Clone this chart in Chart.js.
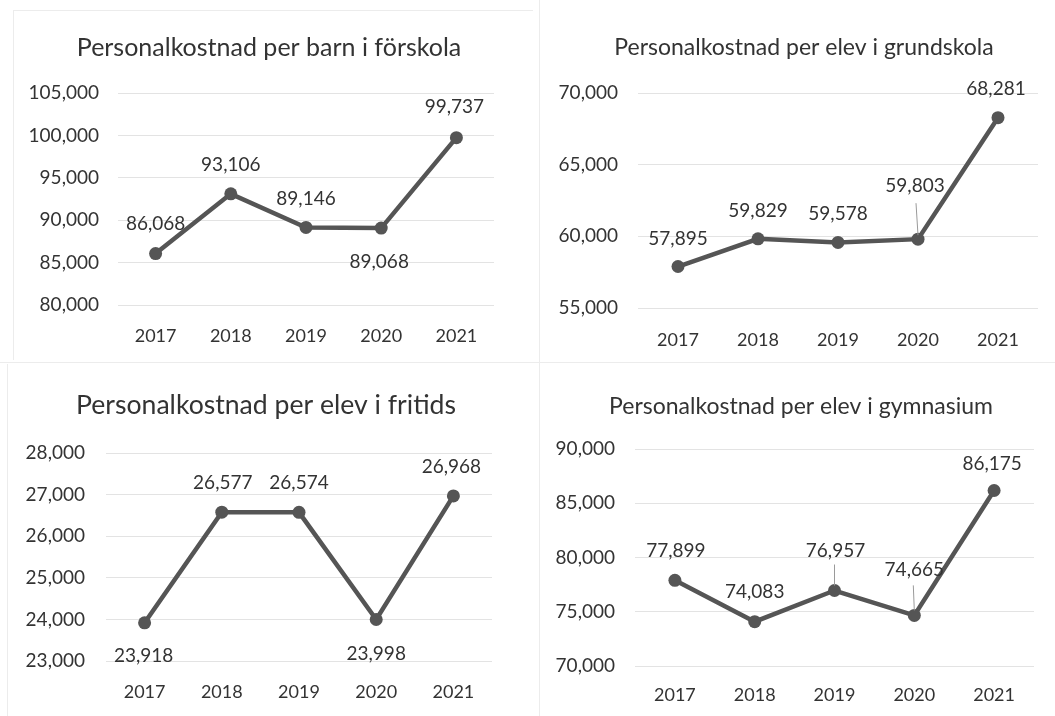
<!DOCTYPE html>
<html>
<head>
<meta charset="utf-8">
<script src="https://cdn.jsdelivr.net/npm/chart.js@4.4.1/dist/chart.umd.min.js"></script>
<style>
  html, body { margin:0; padding:0; background:#fff; }
  #wrap { position:relative; width:1055px; height:716px; overflow:hidden; background:#fff; }
  canvas { position:absolute; }
  .ln { position:absolute; background:#ececec; }
</style>
</head>
<body>
<div id="wrap">
  <div class="ln" style="left:539px;top:0;width:1px;height:716px"></div>
  <div class="ln" style="left:0;top:362px;width:1055px;height:1px"></div>
  <div class="ln" style="left:13px;top:10px;width:520px;height:1px"></div>
  <div class="ln" style="left:13px;top:10px;width:1px;height:350px"></div>
  <div class="ln" style="left:7px;top:364px;width:1px;height:352px"></div>
  <canvas id="c0" width="538" height="362" style="left:0;top:0"></canvas>
  <canvas id="c1" width="517" height="362" style="left:538px;top:0"></canvas>
  <canvas id="c2" width="538" height="354" style="left:0;top:362px"></canvas>
  <canvas id="c3" width="517" height="354" style="left:538px;top:362px"></canvas>
</div>
<script>
// ---- data ----
const years = ['2017', '2018', '2019', '2020', '2021'];
const forskola = [86068, 93106, 89146, 89068, 99737];
const grundskola = [57895, 59829, 59578, 59803, 68281];
const fritids = [23918, 26577, 26574, 23998, 26968];
const gymnasium = [77899, 74083, 76957, 74665, 86175];
const titles = [
  'Personalkostnad per barn i förskola',
  'Personalkostnad per elev i grundskola',
  'Personalkostnad per elev i fritids',
  'Personalkostnad per elev i gymnasium'
];
const yMin = [80000, 55000, 23000, 70000];
const yMax = [105000, 70000, 28000, 90000];
const yStep = [5000, 5000, 1000, 5000];

// ---- styling / layout (not data) ----
const FONT = 'Lato, "Open Sans", sans-serif';
const TEXT = '#333333';
const LINE = '#555555';
const layouts = [
  { padR: 44, padT: 93, yW: 118, yPad: 19, tSize: 25, tX: 269, tY: 48, xH: 57, xPad: 20 },
  { padR: 17, padT: 93, yW: 100, yPad: 20, tSize: 23, tX: 266, tY: 48, xH: 54, xPad: 21 },
  { padR: 46, padT: 91, yW: 106, yPad: 21, tSize: 26.6, tX: 266, tY: 43, xH: 55, xPad: 20 },
  { padR: 21, padT: 87, yW: 97, yPad: 20, tSize: 23, tX: 263, tY: 45, xH: 50, xPad: 18 }
];
const labelOffsets = [
  [[0,-30],[0,-29],[0,-29],[-2,34],[-2,-31]],
  [[0,-28],[0,-28],[0,-29],[-3,-53],[-2,-29]],
  [[-1,33],[1,-29],[0,-29],[0,34],[-2,-29]],
  [[1,-29],[0,-30],[1,-40],[0,-46],[-2,-27]]
];
const leaders = [
  [null,null,null,null,null],
  [null,null,null,[-2,-36,0,-4],null],
  [null,null,null,null,null],
  [null,null,[0,-26,0,-5],[-1,-30,0,-5],null]
];

const labelPlugin = {
  id: 'pointLabels',
  afterDatasetsDraw(chart, args, opts) {
    const ctx = chart.ctx;
    const meta = chart.getDatasetMeta(0);
    const vals = chart.data.datasets[0].data;
    ctx.save();
    meta.data.forEach((pt, i) => {
      const ld = opts.leaders[i];
      if (ld) {
        ctx.strokeStyle = '#9a9a9a';
        ctx.lineWidth = 1;
        ctx.beginPath();
        ctx.moveTo(pt.x + ld[0], pt.y + ld[1]);
        ctx.lineTo(pt.x + ld[2], pt.y + ld[3]);
        ctx.stroke();
      }
      const off = opts.offsets[i];
      ctx.fillStyle = TEXT;
      ctx.font = '19px ' + FONT;
      ctx.textAlign = 'center';
      ctx.textBaseline = 'middle';
      ctx.fillText(vals[i].toLocaleString('en-US'), pt.x + off[0], pt.y + off[1]);
    });
    ctx.restore();
  }
};

const titlePlugin = {
  id: 'chartTitle',
  afterDraw(chart, args, opts) {
    const ctx = chart.ctx;
    ctx.save();
    ctx.fillStyle = TEXT;
    ctx.font = opts.size + 'px ' + FONT;
    ctx.textAlign = 'center';
    ctx.textBaseline = 'middle';
    ctx.fillText(opts.text, opts.x, opts.y);
    ctx.restore();
  }
};

const series = [forskola, grundskola, fritids, gymnasium];
series.forEach((vals, k) => {
  const L = layouts[k];
  new Chart(document.getElementById('c' + k), {
    type: 'line',
    data: {
      labels: years,
      datasets: [{
        data: vals,
        borderColor: LINE,
        borderWidth: 4.5,
        pointRadius: 6.5,
        pointBackgroundColor: LINE,
        pointBorderColor: LINE,
        pointBorderWidth: 0,
        tension: 0
      }]
    },
    options: {
      responsive: false,
      animation: false,
      devicePixelRatio: 1,
      layout: { padding: { left: 0, right: L.padR, top: L.padT, bottom: 0 } },
      plugins: {
        legend: { display: false },
        tooltip: { enabled: false },
        title: { display: false },
        chartTitle: { text: titles[k], size: L.tSize, x: L.tX, y: L.tY },
        pointLabels: { offsets: labelOffsets[k], leaders: leaders[k] }
      },
      scales: {
        x: {
          offset: true,
          grid: { display: false, drawTicks: false },
          border: { display: false },
          ticks: { color: TEXT, font: { family: FONT, size: 18 }, padding: L.xPad, maxRotation: 0 },
          afterFit: (s) => { s.height = L.xH; }
        },
        y: {
          min: yMin[k],
          max: yMax[k],
          grid: { color: '#e3e3e3', lineWidth: 1, drawTicks: false },
          border: { display: false },
          ticks: {
            stepSize: yStep[k],
            color: TEXT,
            padding: L.yPad,
            font: { family: FONT, size: 19 },
            callback: (v) => Number(v).toLocaleString('en-US')
          },
          afterFit: (s) => { s.width = L.yW; }
        }
      }
    },
    plugins: [labelPlugin, titlePlugin]
  });
});
</script>
</body>
</html>
